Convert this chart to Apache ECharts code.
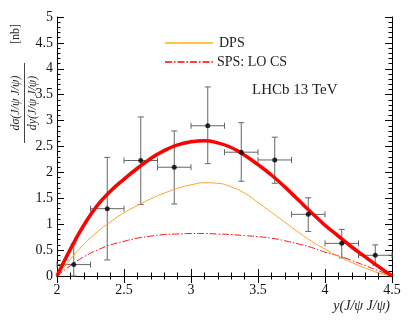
<!DOCTYPE html>
<html>
<head>
<meta charset="utf-8">
<script src="https://cdn.jsdelivr.net/npm/echarts@6/dist/echarts.min.js"></script>
<style>
  html, body { margin: 0; padding: 0; background: #fff; }
  #chart { width: 412px; height: 329px; }
</style>
</head>
<body>
<div id="chart"></div>
<script>
// measured points (bin centre, value, lower / upper end of error bar, half bin width)
const binX = [2.125, 2.375, 2.625, 2.875, 3.125, 3.375, 3.625, 3.875, 4.125, 4.375];
const binHalf = [0.125, 0.125, 0.125, 0.125, 0.125, 0.125, 0.125, 0.125, 0.125, 0.125];
const dataY = [0.22, 1.30, 2.23, 2.10, 2.90, 2.39, 2.24, 1.19, 0.63, 0.40];
const errLow = [0.00, 0.31, 1.38, 1.39, 2.17, 1.83, 1.79, 0.86, 0.35, 0.21];
const errHigh = [0.62, 2.29, 3.07, 2.80, 3.65, 2.96, 2.68, 1.51, 0.90, 0.60];

// model curves
const curveX = [2.0, 2.1, 2.2, 2.3, 2.4, 2.5, 2.6, 2.7, 2.8, 2.9, 3.0, 3.1, 3.2,
                3.3, 3.4, 3.5, 3.6, 3.7, 3.8, 3.9, 4.0, 4.1, 4.2, 4.3, 4.4, 4.5];
const totalY = [0, 0.52, 0.98, 1.36, 1.64, 1.87, 2.08, 2.27, 2.42, 2.53, 2.59, 2.61, 2.57,
                2.48, 2.33, 2.15, 1.95, 1.72, 1.47, 1.22, 0.98, 0.77, 0.56, 0.37, 0.18, 0];
const dpsY = [0, 0.32, 0.61, 0.85, 1.05, 1.22, 1.36, 1.49, 1.60, 1.69, 1.76, 1.80, 1.79,
              1.72, 1.60, 1.42, 1.23, 1.04, 0.85, 0.67, 0.52, 0.38, 0.26, 0.15, 0.06, 0];
const spsY = [0, 0.20, 0.37, 0.50, 0.60, 0.67, 0.73, 0.77, 0.80, 0.81, 0.82, 0.82, 0.81,
              0.80, 0.78, 0.76, 0.73, 0.68, 0.62, 0.55, 0.46, 0.39, 0.30, 0.20, 0.10, 0];

const serif = "Liberation Serif";
const chart = echarts.init(document.getElementById("chart"));

const pair = (xs, ys) => xs.map((x, i) => [x, ys[i]]);

const tickStyle = { color: "#000", width: 1 };
function frameAxis(pos, showLabel) {
  const isX = pos === "bottom" || pos === "top";
  return {
    type: "value",
    position: pos,
    min: isX ? 2 : 0,
    max: isX ? 4.5 : 5,
    interval: 0.5,
    axisLine: { show: true, lineStyle: { color: "#000", width: 1 } },
    axisTick: { show: true, inside: true, length: 7, lineStyle: tickStyle },
    minorTick: { show: true, splitNumber: 5, length: 3.5, lineStyle: tickStyle },
    splitLine: { show: false },
    axisLabel: {
      show: showLabel,
      color: "#111",
      fontFamily: serif,
      fontSize: 14,
      margin: pos === "bottom" ? 7 : 4
    }
  };
}

const option = {
  animation: false,
  grid: { left: 57, right: 20, top: 17, bottom: 53 },
  xAxis: [frameAxis("bottom", true), frameAxis("top", false)],
  yAxis: [frameAxis("left", true), frameAxis("right", false)],
  graphic: [
    // legend
    { type: "line", shape: { x1: 165, y1: 43, x2: 213, y2: 43 },
      style: { stroke: "#ffb000", lineWidth: 1.5 } },
    { type: "text", x: 219, y: 43,
      style: { text: "DPS", font: "14px " + serif, fill: "#222", verticalAlign: "middle" } },
    { type: "line", shape: { x1: 165, y1: 62, x2: 213, y2: 62 },
      style: { stroke: "#ff0000", lineWidth: 1.5, lineDash: [7, 2, 1.5, 2] } },
    { type: "text", x: 217, y: 62,
      style: { text: "SPS: LO CS", font: "14px " + serif, fill: "#222", verticalAlign: "middle" } },
    { type: "text", x: 252, y: 90,
      style: { text: "LHCb 13 TeV", font: "15px " + serif, fill: "#222", verticalAlign: "middle" } },
    { type: "text", x: 390, y: 306,
      style: { text: "y(J/ψ J/ψ)", font: "italic 14px " + serif, fill: "#222",
               align: "right", verticalAlign: "middle" } },
    // y title as a rotated fraction
    { type: "text", x: 22, y: 103, rotation: Math.PI / 2,
      style: { text: "dσ(J/ψ J/ψ)", font: "italic 12px " + serif, fill: "#222",
               align: "center", verticalAlign: "bottom" } },
    { type: "line", shape: { x1: 24.5, y1: 63, x2: 24.5, y2: 143 },
      style: { stroke: "#444", lineWidth: 1 } },
    { type: "text", x: 27, y: 103, rotation: Math.PI / 2,
      style: { text: "dy(J/ψ J/ψ)", font: "italic 12px " + serif, fill: "#222",
               align: "center", verticalAlign: "top" } },
    { type: "text", x: 22, y: 34, rotation: Math.PI / 2,
      style: { text: "[nb]", font: "12px " + serif, fill: "#222",
               align: "center", verticalAlign: "bottom" } }
  ],
  series: [
    {
      name: "errors",
      type: "custom",
      z: 2,
      data: binX.map((x, i) => [x, dataY[i], errLow[i], errHigh[i], binHalf[i]]),
      renderItem: function (params, api) {
        const x = api.value(0), y = api.value(1);
        const lo = api.value(2), hi = api.value(3), hw = api.value(4);
        const c = api.coord([x, y]);
        const t = api.coord([x, hi]);
        const b = api.coord([x, lo]);
        const l = api.coord([x - hw, y]);
        const r = api.coord([x + hw, y]);
        const cap = 3;
        const st = { stroke: "#666", lineWidth: 1 };
        const seg = (x1, y1, x2, y2) => ({ type: "line", shape: { x1, y1, x2, y2 }, style: st });
        return {
          type: "group",
          children: [
            seg(c[0], t[1], c[0], b[1]),
            seg(c[0] - cap, t[1], c[0] + cap, t[1]),
            seg(c[0] - cap, b[1], c[0] + cap, b[1]),
            seg(l[0], c[1], r[0], c[1]),
            seg(l[0], c[1] - cap, l[0], c[1] + cap),
            seg(r[0], c[1] - cap, r[0], c[1] + cap)
          ]
        };
      }
    },
    {
      name: "SPS: LO CS",
      type: "line",
      z: 3,
      data: pair(curveX, spsY),
      smooth: true,
      showSymbol: false,
      symbol: "none",
      lineStyle: { color: "#ff1010", width: 1, type: [7, 2, 1.5, 2] }
    },
    {
      name: "DPS",
      type: "line",
      z: 3,
      data: pair(curveX, dpsY),
      smooth: true,
      showSymbol: false,
      symbol: "none",
      lineStyle: { color: "#ff9f20", width: 1 }
    },
    {
      name: "total",
      type: "line",
      z: 4,
      data: pair(curveX, totalY),
      smooth: true,
      showSymbol: false,
      symbol: "none",
      lineStyle: { color: "#ff0000", width: 3.5 }
    },
    {
      name: "data",
      type: "scatter",
      z: 5,
      data: pair(binX, dataY),
      symbol: "circle",
      symbolSize: 5,
      itemStyle: { color: "#000" }
    }
  ]
};

chart.setOption(option);
</script>
</body>
</html>
